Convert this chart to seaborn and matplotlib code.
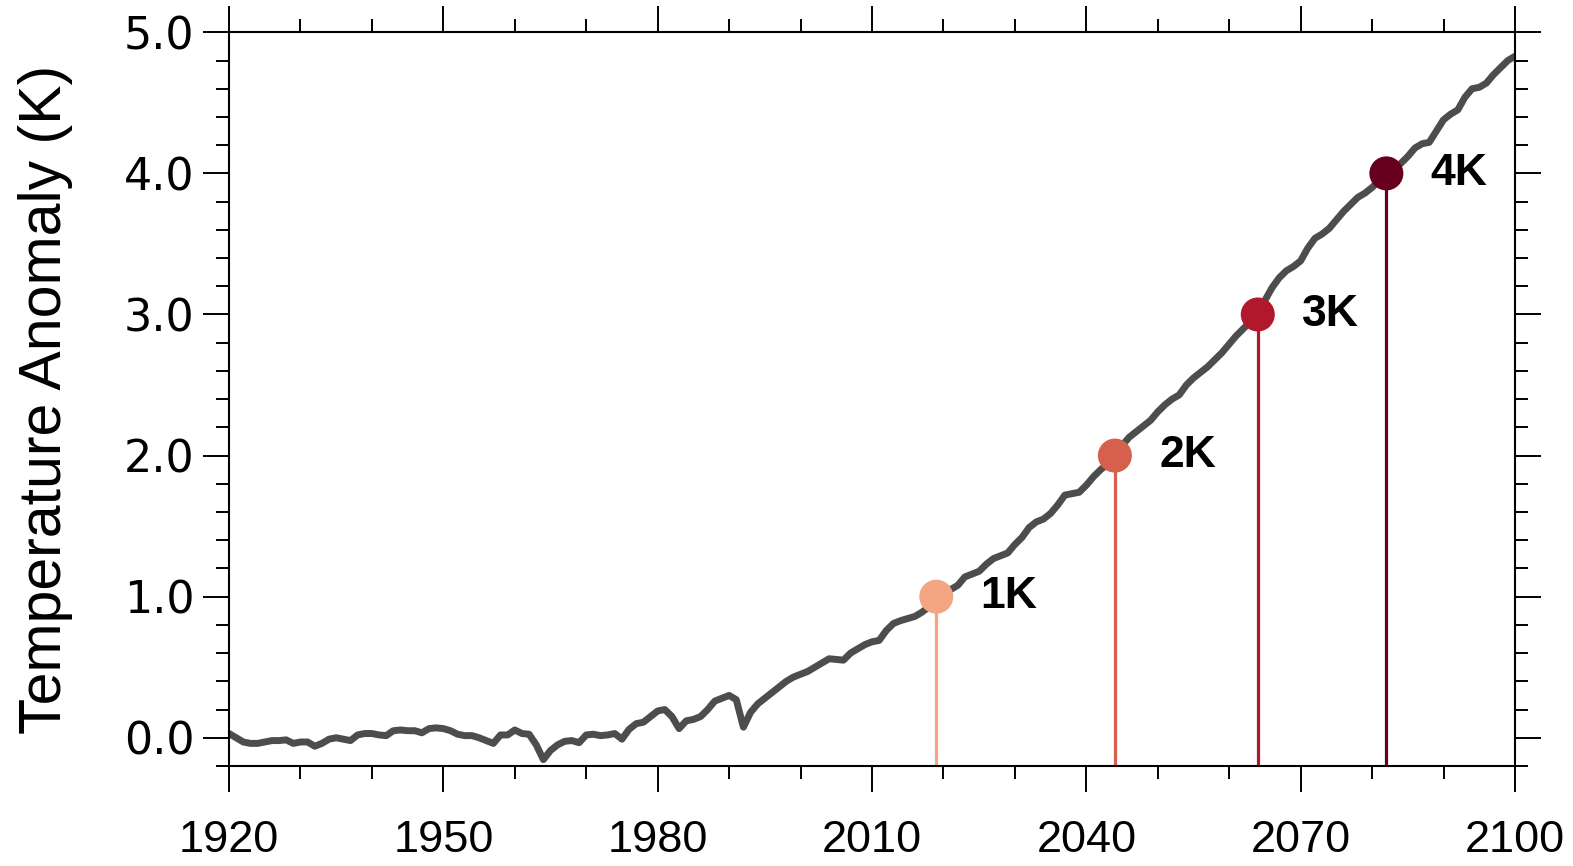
import matplotlib
matplotlib.use("Agg")
import matplotlib.pyplot as plt
import numpy as np
import pandas as pd
import seaborn as sns
from matplotlib.ticker import MultipleLocator, FormatStrFormatter

# Global-mean surface temperature anomaly (K), annual, 1920-2100
years = list(range(1920, 2101))
anomaly = [
    0.03, 0.00, -0.03, -0.04, -0.04, -0.03, -0.02, -0.02, -0.015, -0.04,   # 1920s
    -0.03, -0.03, -0.06, -0.04, -0.01, 0.00, -0.01, -0.02, 0.02, 0.03,     # 1930s
    0.03, 0.02, 0.015, 0.05, 0.055, 0.05, 0.05, 0.035, 0.065, 0.07,        # 1940s
    0.065, 0.05, 0.025, 0.015, 0.015, 0.00, -0.02, -0.04, 0.02, 0.02,      # 1950s
    0.055, 0.03, 0.025, -0.05, -0.155, -0.09, -0.05, -0.025, -0.02, -0.035,  # 1960s
    0.02, 0.025, 0.015, 0.02, 0.03, -0.01, 0.06, 0.10, 0.11, 0.15,         # 1970s
    0.19, 0.20, 0.15, 0.065, 0.12, 0.13, 0.15, 0.20, 0.26, 0.28,           # 1980s
    0.30, 0.27, 0.075, 0.18, 0.24, 0.28, 0.32, 0.36, 0.40, 0.43,           # 1990s
    0.45, 0.47, 0.50, 0.53, 0.56, 0.555, 0.55, 0.60, 0.63, 0.66,           # 2000s
    0.68, 0.69, 0.76, 0.81, 0.83, 0.845, 0.86, 0.89, 0.93, 1.00,           # 2010s
    1.03, 1.05, 1.08, 1.14, 1.16, 1.18, 1.23, 1.27, 1.29, 1.31,            # 2020s
    1.37, 1.42, 1.49, 1.53, 1.55, 1.59, 1.65, 1.72, 1.73, 1.74,            # 2030s
    1.79, 1.85, 1.90, 1.94, 2.00, 2.07, 2.13, 2.17, 2.21, 2.25,            # 2040s
    2.31, 2.36, 2.40, 2.43, 2.50, 2.55, 2.59, 2.63, 2.68, 2.73,            # 2050s
    2.79, 2.85, 2.90, 2.95, 3.00, 3.10, 3.19, 3.26, 3.31, 3.34,            # 2060s
    3.38, 3.47, 3.54, 3.57, 3.61, 3.67, 3.73, 3.78, 3.83, 3.86,            # 2070s
    3.90, 3.95, 4.00, 4.04, 4.07, 4.12, 4.18, 4.21, 4.22, 4.30,            # 2080s
    4.38, 4.42, 4.45, 4.54, 4.60, 4.61, 4.64, 4.70, 4.75, 4.80,            # 2090s
    4.83,                                                                  # 2100
]

# Warming levels and the years they are first reached
levels = [1.0, 2.0, 3.0, 4.0]
crossing_years = [2019, 2044, 2064, 2082]
level_labels = ["1K", "2K", "3K", "4K"]
level_colors = ["#F4A582", "#D6604D", "#B2182B", "#67001F"]

x_ticks = [1920, 1950, 1980, 2010, 2040, 2070, 2100]
y_ticks = [0.0, 1.0, 2.0, 3.0, 4.0, 5.0]

sns.set_theme(style="ticks")
plt.rcParams["font.family"] = ["Liberation Sans", "DejaVu Sans"]
plt.rcParams["text.color"] = "black"
plt.rcParams["axes.labelcolor"] = "black"
plt.rcParams["xtick.color"] = "black"
plt.rcParams["ytick.color"] = "black"

series = pd.DataFrame({"year": years, "anomaly": anomaly})
levels_df = pd.DataFrame({"year": crossing_years, "level": levels,
                          "label": level_labels})

fig = plt.figure(figsize=(15.73, 8.66), dpi=100)
ax = fig.add_axes([0.1456, 0.1155, 0.8175, 0.8472])

ymin, ymax = -0.2, 5.0

sns.lineplot(data=series, x="year", y="anomaly", ax=ax, color="#4D4D4D",
             linewidth=5.0, zorder=2)

# stems from the bottom of the frame up to each warming level
for yr, lv, col in zip(crossing_years, levels, level_colors):
    ax.vlines(yr, ymin, lv, colors=col, linewidth=2.3, zorder=1)

sns.scatterplot(data=levels_df, x="year", y="level", hue="label",
                palette=level_colors, s=600, edgecolor="none", legend=False,
                ax=ax, zorder=3)

for yr, lv, lab in zip(crossing_years, levels, level_labels):
    ax.annotate(lab, xy=(yr, lv), xytext=(32, 0), textcoords="offset points",
                ha="left", va="center", fontsize=32, fontweight="bold",
                color="black")

ax.set_xlim(1920, 2100)
ax.set_ylim(ymin, ymax)
ax.set_xticks(x_ticks)
ax.set_yticks(y_ticks)
ax.xaxis.set_minor_locator(MultipleLocator(10))
ax.yaxis.set_minor_locator(MultipleLocator(0.2))
ax.yaxis.set_major_formatter(FormatStrFormatter("%.1f"))

ax.set_xlabel("")
ax.set_ylabel("Temperature Anomaly (K)", fontsize=42.5)
ax.yaxis.set_label_coords(-0.1213, 0.5)

ax.tick_params(which="both", direction="out", top=True, right=True,
               labeltop=False, labelright=False, color="black",
               labelcolor="black", width=1.4)
ax.tick_params(which="major", length=18.7)
ax.tick_params(which="minor", length=9.4)
ax.tick_params(axis="x", which="major", pad=20.5, labelsize=32.5)
ax.tick_params(axis="y", which="major", pad=6, labelsize=32)
for lbl in ax.get_yticklabels():
    lbl.set_fontfamily(["DejaVu Sans"])

for sp in ax.spines.values():
    sp.set_visible(True)
    sp.set_linewidth(1.5)
    sp.set_color("black")

fig.savefig("out.png", dpi=100)
